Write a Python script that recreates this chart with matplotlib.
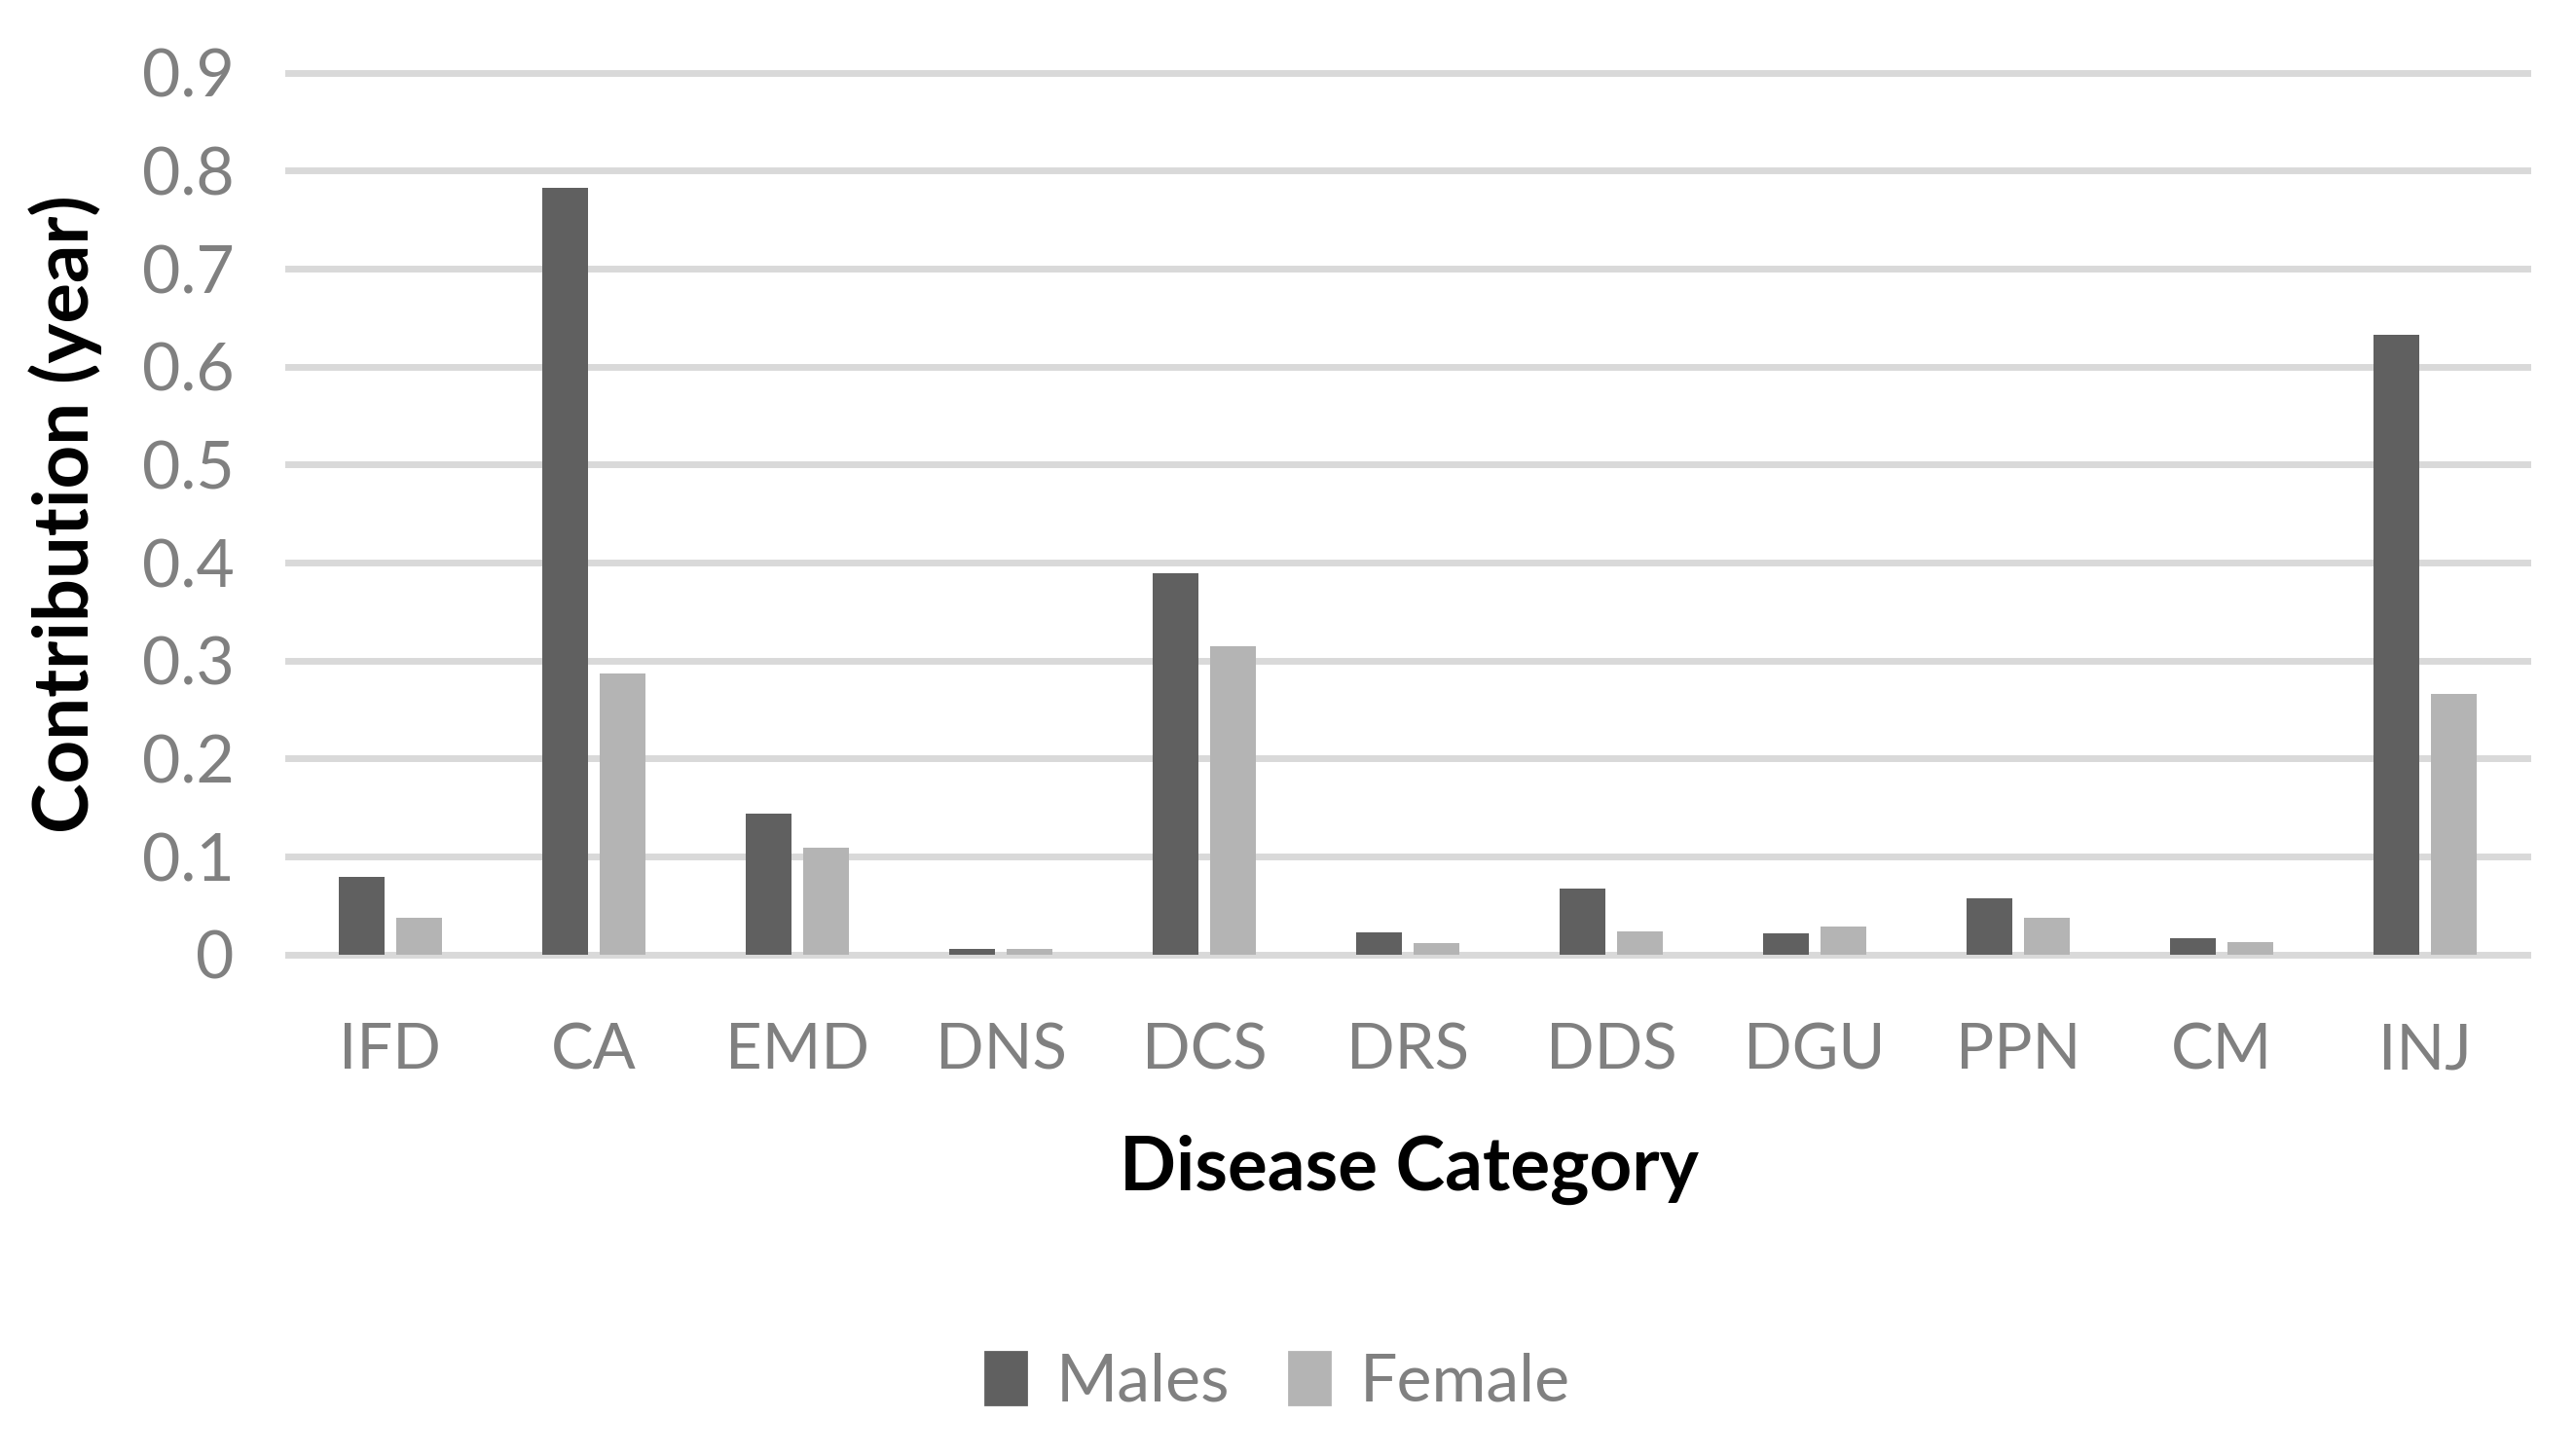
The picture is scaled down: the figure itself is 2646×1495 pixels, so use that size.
import numpy as np
import matplotlib
matplotlib.use("Agg")
import matplotlib.pyplot as plt
from matplotlib.patches import Patch

categories = ['IFD', 'CA', 'EMD', 'DNS', 'DCS', 'DRS', 'DDS', 'DGU', 'PPN', 'CM', 'INJ']
males = [0.079, 0.783, 0.144, 0.006, 0.389, 0.023, 0.067, 0.022, 0.057, 0.017, 0.633]
female = [0.037, 0.287, 0.109, 0.006, 0.315, 0.012, 0.024, 0.029, 0.037, 0.013, 0.266]
yticks = [0, 0.1, 0.2, 0.3, 0.4, 0.5, 0.6, 0.7, 0.8, 0.9]
ytick_labels = ['0', '0.1', '0.2', '0.3', '0.4', '0.5', '0.6', '0.7', '0.8', '0.9']

MALE_COLOR = '#606060'
FEMALE_COLOR = '#b4b4b4'
GRID_COLOR = '#d9d9d9'
TEXT_GRAY = '#808080'

plt.rcParams['font.family'] = ['Lato', 'DejaVu Sans']

fig = plt.figure(figsize=(13.23, 7.475), dpi=200)
ax = fig.add_axes([0.112, 0.344, 0.869, 0.606])

x = np.arange(len(categories))
width = 0.226
offset = 0.141
ax.bar(x - offset, males, width, color=MALE_COLOR, label='Males', zorder=3)
ax.bar(x + offset, female, width, color=FEMALE_COLOR, label='Female', zorder=3)

ax.set_xlim(-0.5, len(categories) - 0.5)
ax.set_ylim(0, 0.9)
ax.set_yticks(yticks)
ax.set_yticklabels(ytick_labels)
ax.set_xticks(x)
ax.set_xticklabels(categories)

# horizontal gridlines, Excel style
for y in yticks:
    ax.axhline(y, color=GRID_COLOR, lw=2.5, zorder=1, clip_on=False)

for s in ax.spines.values():
    s.set_visible(False)
ax.tick_params(axis='y', length=0, labelsize=24.5, labelcolor=TEXT_GRAY, pad=20)
ax.tick_params(axis='x', length=0, labelsize=23.5, labelcolor=TEXT_GRAY, pad=25)

fig.text(0.0255, 0.647, 'Contribution (year)', rotation=90, ha='center', va='center',
         fontsize=28, fontweight='bold', color='black')
fig.text(0.547, 0.196, 'Disease Category', ha='center', va='center',
         fontsize=27.5, fontweight='bold', color='black')

handles = [Patch(color=MALE_COLOR, label='Males'), Patch(color=FEMALE_COLOR, label='Female')]
fig.legend(handles=handles, loc='center', bbox_to_anchor=(0.496, 0.05), ncol=2, frameon=False,
           fontsize=24.5, labelcolor=TEXT_GRAY, handlelength=0.62, handleheight=0.85,
           handletextpad=0.45, columnspacing=0.9)

fig.savefig('out.png', dpi=200, facecolor='white')
